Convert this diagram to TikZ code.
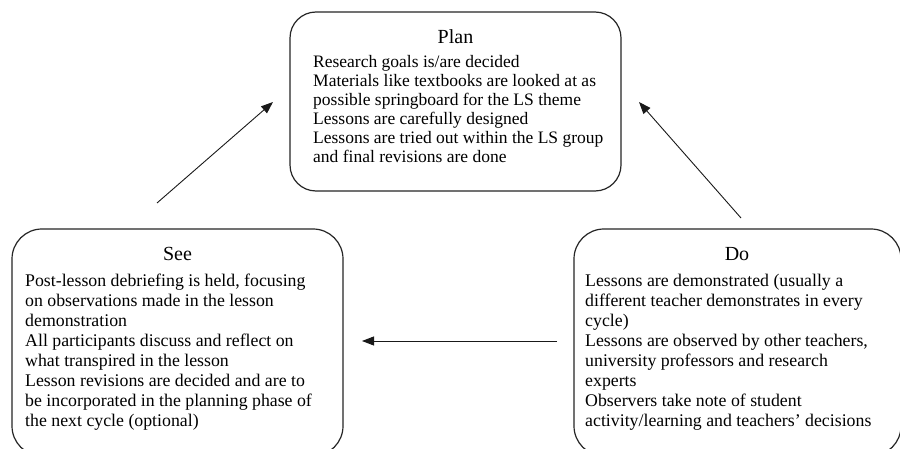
\documentclass[tikz,border=0pt]{standalone}
\usepackage{fontspec}
\setmainfont{Liberation Serif}
\usetikzlibrary{arrows.meta}
\tikzset{
  stagebox/.style={draw=black!85, line width=1.2pt},
  flow/.style={draw=black!90, line width=0.9pt, -{Triangle[length=12pt,width=9pt]}},
  stagetitle/.style={anchor=base, inner sep=0pt, font=\fontsize{20}{22}\selectfont},
  stagetext/.style={anchor=base west, inner sep=0pt},
}
\newcommand{\bodytext}[1]{\parbox[t]{320pt}{\fontsize{17.5}{19}\selectfont\raggedright #1}}
\newcommand{\bodytextb}[1]{\parbox[t]{320pt}{\fontsize{17.8}{20}\selectfont\raggedright #1}}
\begin{document}
\begin{tikzpicture}[x=1pt,y=-1pt]
\clip (0,0) rectangle (900,449);
\useasboundingbox (0,0) rectangle (900,449);
\fill[white] (0,0) rectangle (900,449);
% boxes
\draw[stagebox, rounded corners=26pt] (290,12) rectangle (621,191);
\draw[stagebox, rounded corners=30pt] (12,229) rectangle (343,456);
\draw[stagebox, rounded corners=30pt] (574,229) rectangle (901,456);
% titles
\node[stagetitle] (plant) at (455.5,44) {Plan};
\node[stagetitle] (seet) at (177.5,261) {See};
\node[stagetitle] (dot) at (737,261) {Do};
% body
\node[stagetext] (planb) at (313,68) {\bodytext{Research goals is/are decided\\
Materials like textbooks are looked at as\\
possible springboard for the LS theme\\
Lessons are carefully designed\\
Lessons are tried out within the LS group\\
and final revisions are done}};
\node[stagetext] (seeb) at (25,287) {\bodytextb{Post-lesson debriefing is held, focusing\\
on observations made in the lesson\\
demonstration\\
All participants discuss and reflect on\\
what transpired in the lesson\\
Lesson revisions are decided and are to\\
be incorporated in the planning phase of\\
the next cycle (optional)}};
\node[stagetext] (dob) at (585,287) {\bodytextb{Lessons are demonstrated (usually a\\
different teacher demonstrates in every\\
cycle)\\
Lessons are observed by other teachers,\\
university professors and research\\
experts\\
Observers take note of student\\
activity/learning and teachers' decisions}};
% arrows
\coordinate (a1s) at (157,203);
\coordinate (a1e) at (273,102);
\coordinate (a2s) at (741,218);
\coordinate (a2e) at (639,102);
\coordinate (a3s) at (557,341);
\coordinate (a3e) at (362,341);
\draw[flow] (a1s) -- (a1e);
\draw[flow] (a2s) -- (a2e);
\draw[flow] (a3s) -- (a3e);
\end{tikzpicture}
\end{document}
